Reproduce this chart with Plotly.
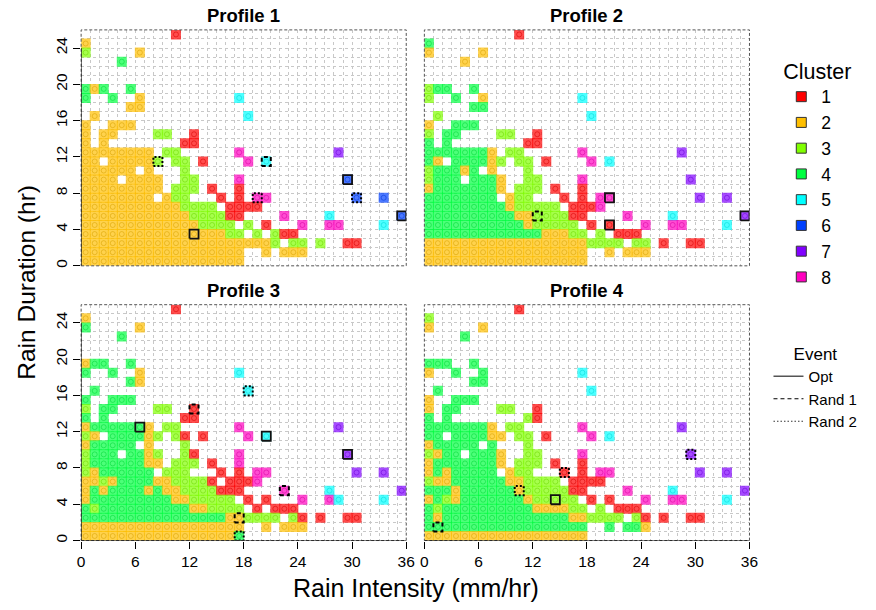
import plotly.graph_objects as go

W, H = 876, 610

# R rainbow(8) palette, one colour per cluster
CLUSTER_COLORS = ["#FF0000", "#FFBF00", "#80FF00", "#00FF40",
                  "#00FFFF", "#0040FF", "#8000FF", "#FF00BF"]
CLUSTER_NAMES = ["1", "2", "3", "4", "5", "6", "7", "8"]
X_TICKS = [0, 6, 12, 18, 24, 30, 36]
Y_TICKS = [0, 4, 8, 12, 16, 20, 24]
PANEL_TITLES = ["Profile 1", "Profile 2", "Profile 3", "Profile 4"]
EVENT_TYPES = ["Opt", "Rand 1", "Rand 2"]

# Occupied cells as runs: (duration hr, intensity from, intensity to, cluster)
PROFILE_1 = [
    (25, 10, 10, 1),
    (24, 0, 0, 2),
    (23, 0, 0, 3), (23, 6, 6, 2),
    (22, 4, 4, 4),
    (19, 0, 0, 4), (19, 1, 1, 2), (19, 2, 2, 4), (19, 5, 5, 4),
    (18, 0, 0, 4), (18, 3, 3, 4), (18, 6, 6, 2), (18, 17, 17, 5),
    (17, 5, 6, 2),
    (16, 1, 1, 2), (16, 18, 18, 5),
    (15, 0, 0, 2), (15, 3, 5, 2),
    (14, 0, 0, 2), (14, 2, 3, 2), (14, 8, 9, 3), (14, 12, 12, 1),
    (13, 0, 0, 2), (13, 2, 2, 2), (13, 11, 12, 1),
    (12, 0, 7, 2), (12, 9, 10, 3), (12, 17, 17, 8), (12, 28, 28, 7),
    (11, 0, 1, 2), (11, 3, 7, 2), (11, 8, 8, 3), (11, 10, 11, 3), (11, 13, 13, 1),
    (11, 18, 18, 8), (11, 20, 20, 5),
    (10, 0, 5, 2), (10, 7, 7, 2), (10, 11, 11, 3),
    (9, 0, 3, 2), (9, 5, 8, 2), (9, 11, 12, 3), (9, 17, 17, 8), (9, 29, 29, 6),
    (8, 0, 8, 2), (8, 10, 12, 3), (8, 14, 14, 1), (8, 17, 17, 1),
    (7, 0, 7, 2), (7, 9, 9, 2), (7, 10, 11, 3), (7, 15, 15, 1), (7, 17, 17, 1),
    (7, 19, 20, 8), (7, 30, 30, 6), (7, 33, 33, 6),
    (6, 0, 10, 2), (6, 11, 14, 3), (6, 16, 19, 1),
    (5, 0, 11, 2), (5, 12, 15, 3), (5, 16, 17, 1), (5, 22, 22, 8), (5, 27, 27, 5),
    (5, 35, 35, 6),
    (4, 0, 12, 2), (4, 13, 16, 3), (4, 18, 18, 3), (4, 20, 20, 1), (4, 24, 24, 8),
    (4, 27, 28, 8), (4, 33, 33, 5),
    (3, 0, 15, 2), (3, 16, 17, 3), (3, 19, 19, 3), (3, 21, 21, 3), (3, 22, 23, 1),
    (2, 0, 20, 2), (2, 21, 21, 3), (2, 23, 24, 3), (2, 26, 26, 3), (2, 29, 30, 1),
    (1, 0, 17, 2), (1, 20, 20, 2), (1, 22, 24, 2),
    (0, 0, 17, 2),
]

PROFILE_2 = [
    (25, 10, 10, 1),
    (24, 0, 0, 4),
    (23, 0, 0, 2), (23, 6, 6, 2),
    (22, 4, 4, 2),
    (19, 0, 0, 3), (19, 1, 2, 4), (19, 5, 5, 4),
    (18, 0, 0, 3), (18, 3, 3, 4), (18, 6, 6, 2), (18, 17, 17, 5),
    (17, 5, 6, 4),
    (16, 1, 1, 3), (16, 18, 18, 5),
    (15, 0, 0, 2), (15, 3, 5, 4),
    (14, 0, 0, 3), (14, 2, 3, 4), (14, 8, 9, 3), (14, 12, 12, 1),
    (13, 0, 0, 4), (13, 2, 2, 4), (13, 11, 12, 1),
    (12, 0, 6, 4), (12, 7, 7, 2), (12, 9, 10, 3), (12, 17, 17, 8), (12, 28, 28, 7),
    (11, 0, 0, 4), (11, 1, 1, 2), (11, 3, 6, 4), (11, 7, 7, 2), (11, 8, 8, 3),
    (11, 10, 11, 3), (11, 13, 13, 1), (11, 18, 18, 8), (11, 20, 20, 5),
    (10, 0, 0, 3), (10, 1, 3, 4), (10, 4, 4, 2), (10, 5, 5, 4), (10, 7, 7, 2),
    (10, 11, 11, 3),
    (9, 0, 0, 3), (9, 1, 3, 4), (9, 5, 7, 4), (9, 8, 8, 2), (9, 11, 12, 3),
    (9, 17, 17, 8), (9, 29, 29, 7),
    (8, 0, 0, 2), (8, 1, 7, 4), (8, 8, 8, 2), (8, 10, 12, 3), (8, 14, 14, 1),
    (8, 17, 17, 1),
    (7, 0, 7, 4), (7, 9, 9, 2), (7, 10, 11, 3), (7, 15, 15, 1), (7, 17, 17, 1),
    (7, 19, 20, 8), (7, 30, 30, 7), (7, 33, 33, 7),
    (6, 0, 8, 4), (6, 9, 9, 2), (6, 10, 14, 3), (6, 16, 18, 1), (6, 19, 19, 8),
    (5, 0, 9, 4), (5, 10, 11, 2), (5, 12, 15, 3), (5, 16, 17, 1), (5, 22, 22, 8),
    (5, 27, 27, 5), (5, 35, 35, 7),
    (4, 0, 10, 4), (4, 11, 11, 2), (4, 12, 16, 3), (4, 18, 18, 1), (4, 20, 20, 1),
    (4, 24, 24, 8), (4, 27, 28, 8), (4, 33, 33, 5),
    (3, 0, 12, 4), (3, 13, 15, 2), (3, 16, 17, 3), (3, 19, 19, 3), (3, 21, 23, 1),
    (2, 0, 17, 2), (2, 18, 21, 3), (2, 23, 24, 3), (2, 26, 26, 1), (2, 29, 30, 1),
    (1, 0, 17, 2), (1, 20, 20, 2), (1, 22, 24, 2),
    (0, 0, 17, 2),
]

PROFILE_3 = [
    (25, 10, 10, 1),
    (24, 0, 0, 2),
    (23, 0, 0, 4), (23, 6, 6, 2),
    (22, 4, 4, 4),
    (19, 0, 0, 2), (19, 1, 2, 4), (19, 5, 5, 4),
    (18, 0, 0, 4), (18, 3, 3, 4), (18, 6, 6, 2), (18, 17, 17, 5),
    (17, 5, 5, 4), (17, 6, 6, 2),
    (16, 1, 1, 4), (16, 18, 18, 5),
    (15, 0, 0, 4), (15, 3, 5, 4),
    (14, 0, 0, 3), (14, 2, 3, 4), (14, 8, 9, 3), (14, 12, 12, 1),
    (13, 0, 0, 4), (13, 2, 2, 4), (13, 11, 12, 1),
    (12, 0, 0, 2), (12, 1, 6, 4), (12, 7, 7, 2), (12, 9, 10, 3), (12, 17, 17, 8),
    (12, 28, 28, 7),
    (11, 0, 0, 3), (11, 1, 1, 2), (11, 3, 6, 4), (11, 7, 7, 2), (11, 8, 8, 3),
    (11, 10, 10, 3), (11, 11, 11, 1), (11, 13, 13, 1), (11, 18, 18, 8), (11, 20, 20, 5),
    (10, 0, 0, 2), (10, 1, 5, 4), (10, 7, 7, 2), (10, 11, 11, 3),
    (9, 0, 0, 3), (9, 1, 3, 4), (9, 5, 6, 4), (9, 7, 7, 2), (9, 8, 8, 3),
    (9, 11, 11, 3), (9, 12, 12, 1), (9, 17, 17, 8), (9, 29, 29, 7),
    (8, 0, 0, 3), (8, 1, 6, 4), (8, 7, 8, 2), (8, 10, 12, 3), (8, 14, 14, 1),
    (8, 17, 17, 8),
    (7, 0, 0, 3), (7, 1, 1, 2), (7, 2, 7, 4), (7, 9, 11, 3), (7, 15, 15, 1),
    (7, 17, 17, 1), (7, 19, 20, 8), (7, 30, 30, 7), (7, 33, 33, 7),
    (6, 0, 1, 2), (6, 2, 2, 3), (6, 3, 3, 2), (6, 4, 7, 4), (6, 8, 9, 2),
    (6, 10, 13, 3), (6, 14, 14, 1), (6, 16, 18, 1), (6, 19, 19, 8),
    (5, 0, 0, 2), (5, 1, 1, 4), (5, 2, 2, 2), (5, 3, 6, 4), (5, 7, 7, 2),
    (5, 8, 8, 4), (5, 9, 10, 2), (5, 11, 14, 3), (5, 15, 17, 1), (5, 22, 22, 8),
    (5, 27, 27, 5), (5, 35, 35, 7),
    (4, 0, 0, 2), (4, 1, 9, 4), (4, 10, 11, 2), (4, 12, 16, 3), (4, 18, 18, 1),
    (4, 20, 20, 1), (4, 24, 24, 8), (4, 27, 27, 8), (4, 28, 28, 5), (4, 33, 33, 5),
    (3, 0, 0, 4), (3, 1, 1, 3), (3, 2, 11, 4), (3, 12, 13, 2), (3, 14, 17, 3),
    (3, 19, 19, 1), (3, 21, 23, 1),
    (2, 0, 15, 4), (2, 16, 17, 2), (2, 18, 21, 3), (2, 23, 23, 3), (2, 24, 24, 1),
    (2, 26, 26, 1), (2, 29, 30, 1),
    (1, 0, 17, 2), (1, 20, 20, 2), (1, 22, 24, 2),
    (0, 0, 16, 2), (0, 17, 17, 4),
]

PROFILE_4 = [
    (25, 10, 10, 1),
    (24, 0, 0, 3),
    (23, 0, 0, 2), (23, 6, 6, 2),
    (22, 4, 4, 4),
    (19, 0, 2, 4), (19, 5, 5, 4),
    (18, 0, 0, 2), (18, 3, 3, 4), (18, 6, 6, 4), (18, 17, 17, 5),
    (17, 5, 6, 4),
    (16, 1, 1, 4), (16, 18, 18, 5),
    (15, 0, 0, 2), (15, 3, 5, 4),
    (14, 0, 0, 2), (14, 2, 3, 4), (14, 8, 9, 3), (14, 12, 12, 1),
    (13, 0, 0, 4), (13, 2, 2, 4), (13, 11, 11, 3), (13, 12, 12, 1),
    (12, 0, 6, 4), (12, 7, 7, 2), (12, 9, 10, 3), (12, 17, 17, 8), (12, 28, 28, 7),
    (11, 0, 1, 4), (11, 3, 6, 4), (11, 7, 8, 2), (11, 10, 11, 3), (11, 13, 13, 1),
    (11, 18, 18, 8), (11, 20, 20, 5),
    (10, 0, 0, 2), (10, 1, 5, 4), (10, 7, 7, 4), (10, 11, 11, 3),
    (9, 0, 0, 3), (9, 1, 1, 2), (9, 2, 3, 4), (9, 5, 7, 4), (9, 8, 8, 2),
    (9, 11, 12, 3), (9, 17, 17, 8), (9, 29, 29, 7),
    (8, 0, 0, 2), (8, 1, 7, 4), (8, 8, 8, 2), (8, 10, 12, 3), (8, 14, 14, 1),
    (8, 17, 17, 1),
    (7, 0, 0, 2), (7, 1, 1, 4), (7, 2, 2, 2), (7, 3, 7, 4), (7, 9, 9, 2),
    (7, 10, 11, 3), (7, 15, 15, 1), (7, 17, 17, 1), (7, 19, 20, 8), (7, 30, 30, 7),
    (7, 33, 33, 7),
    (6, 0, 0, 3), (6, 1, 2, 2), (6, 3, 8, 4), (6, 9, 10, 2), (6, 11, 14, 3),
    (6, 16, 19, 1),
    (5, 0, 2, 4), (5, 3, 3, 2), (5, 4, 9, 4), (5, 10, 10, 2), (5, 11, 15, 3),
    (5, 16, 17, 1), (5, 22, 22, 8), (5, 27, 27, 5), (5, 35, 35, 7),
    (4, 0, 0, 2), (4, 1, 1, 4), (4, 2, 2, 3), (4, 3, 3, 2), (4, 4, 10, 4),
    (4, 11, 11, 2), (4, 12, 16, 3), (4, 18, 18, 1), (4, 20, 20, 1), (4, 24, 24, 8),
    (4, 27, 28, 8), (4, 33, 33, 5),
    (3, 0, 0, 4), (3, 1, 1, 3), (3, 2, 11, 4), (3, 12, 15, 2), (3, 16, 17, 3),
    (3, 19, 19, 3), (3, 21, 23, 1),
    (2, 0, 0, 4), (2, 1, 1, 2), (2, 2, 15, 4), (2, 16, 17, 2), (2, 18, 21, 3),
    (2, 23, 23, 3), (2, 24, 24, 1), (2, 26, 26, 1), (2, 29, 30, 1),
    (1, 0, 17, 4), (1, 20, 20, 4), (1, 22, 23, 4), (1, 24, 24, 2),
    (0, 0, 17, 2),
]

# Highlighted event cells: (intensity, duration, event type)
EVENTS_1 = [(12, 3, "Opt"), (29, 9, "Opt"), (35, 5, "Opt"),
            (20, 11, "Rand 1"),
            (8, 11, "Rand 2"), (19, 7, "Rand 2"), (30, 7, "Rand 2")]
EVENTS_2 = [(20, 7, "Opt"), (20, 4, "Opt"), (35, 5, "Opt"),
            (12, 5, "Rand 1")]
EVENTS_3 = [(6, 12, "Opt"), (20, 11, "Opt"), (29, 9, "Opt"),
            (12, 14, "Rand 1"), (17, 2, "Rand 1"), (22, 5, "Rand 1"),
            (18, 16, "Rand 2"), (17, 0, "Rand 2")]
EVENTS_4 = [(14, 4, "Opt"),
            (1, 1, "Rand 1"),
            (10, 5, "Rand 2"), (15, 7, "Rand 2"), (29, 9, "Rand 2")]

PROFILES = [PROFILE_1, PROFILE_2, PROFILE_3, PROFILE_4]
EVENTS = [EVENTS_1, EVENTS_2, EVENTS_3, EVENTS_4]

EVENT_STYLE = {
    "Opt": dict(dash="solid", color="#111111", width=1.8),
    "Rand 1": dict(dash="4px,3px", color="black", width=2),
    "Rand 2": dict(dash="2px,2px", color="black", width=2),
}
LEGEND_EVENT_STYLE = {
    "Opt": dict(dash="solid", color="#555555", width=1.5),
    "Rand 1": dict(dash="4px,3px", color="black", width=1.2),
    "Rand 2": dict(dash="1.5px,2px", color="#333333", width=1.2),
}

FONT = "Arial, Liberation Sans, sans-serif"
GRID = "#c8c8c8"
FILL_ALPHA = 0.7

# panel boxes in pixels: (left, right, top, bottom)
PANELS_PX = [(78.3, 408.3, 30.0, 266.7), (426.7, 756.7, 30.0, 266.7),
             (78.3, 408.3, 305.7, 542.3), (426.7, 756.7, 305.7, 542.3)]


def rgba(hex_color, a):
    h = hex_color.lstrip("#")
    r, g, b = int(h[0:2], 16), int(h[2:4], 16), int(h[4:6], 16)
    return f"rgba({r},{g},{b},{a})"


def darker(hex_color, f, a):
    h = hex_color.lstrip("#")
    r, g, b = int(h[0:2], 16), int(h[2:4], 16), int(h[4:6], 16)
    return f"rgba({int(r * f)},{int(g * f)},{int(b * f)},{a})"


fig = go.Figure()

for k, (runs, events) in enumerate(zip(PROFILES, EVENTS), start=1):
    xs, ys, fills, rings = [], [], [], []
    for row, c0, c1, cl in runs:
        for c in range(c0, c1 + 1):
            xs.append(c + 0.5)
            ys.append(row + 0.5)
            fills.append(rgba(CLUSTER_COLORS[cl - 1], FILL_ALPHA))
            rings.append(darker(CLUSTER_COLORS[cl - 1], 0.85, 0.55))
    xa = "x" if k == 1 else f"x{k}"
    ya = "y" if k == 1 else f"y{k}"
    fig.add_trace(go.Scatter(
        x=xs, y=ys, mode="markers", xaxis=xa, yaxis=ya, showlegend=False,
        hoverinfo="skip",
        marker=dict(symbol="square", size=10, color=fills, line=dict(width=0)),
    ))
    fig.add_trace(go.Scatter(
        x=xs, y=ys, mode="markers", xaxis=xa, yaxis=ya, showlegend=False,
        hoverinfo="skip",
        marker=dict(symbol="circle-open", size=5, color=rings,
                    line=dict(width=1, color=rings)),
    ))
    for et in EVENT_TYPES:
        ex, ey = [], []
        for c, r, t in events:
            if t != et:
                continue
            ex += [c, c + 1, c + 1, c, c, None]
            ey += [r, r, r + 1, r + 1, r, None]
        if ex:
            fig.add_trace(go.Scatter(
                x=ex, y=ey, mode="lines", xaxis=xa, yaxis=ya, showlegend=False,
                hoverinfo="skip", line=EVENT_STYLE[et],
            ))

# legend entries
for name, col in zip(CLUSTER_NAMES, CLUSTER_COLORS):
    fig.add_trace(go.Scatter(
        x=[None], y=[None], mode="markers", name=name, legend="legend",
        marker=dict(symbol="square", size=10, color=col,
                    line=dict(color="#333333", width=1)),
    ))
for et in EVENT_TYPES:
    fig.add_trace(go.Scatter(
        x=[None], y=[None], mode="lines", name=et, legend="legend2",
        line=LEGEND_EVENT_STYLE[et],
    ))

layout = dict(
    width=W, height=H, margin=dict(l=0, r=0, t=0, b=0),
    paper_bgcolor="white", plot_bgcolor="white",
    font=dict(family=FONT, color="black"),
    showlegend=True,
    legend=dict(
        title=dict(text="Cluster", font=dict(size=21.5)),
        x=789 / W, xanchor="left", y=1 - 51 / H, yanchor="top",
        font=dict(size=17.5), bgcolor="rgba(0,0,0,0)", itemsizing="trace",
        tracegroupgap=0,
    ),
    legend2=dict(
        title=dict(text="Event", font=dict(size=17), side="top center"),
        x=776 / W, xanchor="left", y=1 - 339 / H, yanchor="top",
        font=dict(size=15), bgcolor="rgba(0,0,0,0)", tracegroupgap=0,
    ),
)

shapes, annotations = [], []
for k, (l, r, t, b) in enumerate(PANELS_PX, start=1):
    sfx = "" if k == 1 else str(k)
    left_col = k in (1, 3)
    bottom_row = k in (3, 4)
    layout[f"xaxis{sfx}"] = dict(
        domain=[l / W, r / W], range=[0, 36], anchor=f"y{sfx}",
        tickmode="linear", tick0=0, dtick=6,
        showticklabels=bottom_row, ticks="outside" if bottom_row else "",
        ticklen=7, tickwidth=1, tickcolor="black",
        tickfont=dict(size=15.5, color="black"),
        showgrid=True, gridcolor=GRID, griddash="dot", gridwidth=1,
        minor=dict(tickmode="linear", tick0=0, dtick=1, showgrid=True,
                   gridcolor=GRID, griddash="dot", gridwidth=1),
        zeroline=False, showline=False, fixedrange=True,
    )
    layout[f"yaxis{sfx}"] = dict(
        domain=[1 - b / H, 1 - t / H], range=[0, 26], anchor=f"x{sfx}",
        tickmode="array", tickvals=Y_TICKS,
        showticklabels=left_col, ticks="outside" if left_col else "",
        ticklen=7, tickwidth=1, tickcolor="black", tickangle=-90,
        tickfont=dict(size=15.5, color="black"),
        showgrid=True, gridcolor=GRID, griddash="dot", gridwidth=1,
        minor=dict(tickmode="linear", tick0=0, dtick=1, showgrid=True,
                   gridcolor=GRID, griddash="dot", gridwidth=1),
        zeroline=False, showline=False, fixedrange=True,
    )
    xa = "x" if k == 1 else f"x{k}"
    ya = "y" if k == 1 else f"y{k}"
    # dashed panel frame
    shapes.append(dict(type="rect", xref=f"{xa} domain", yref=f"{ya} domain",
                       x0=0, x1=1, y0=0, y1=1, layer="above",
                       line=dict(color="#555555", width=1, dash="3px,2px")))
    if left_col:
        shapes.append(dict(type="line", xref=xa, yref=ya, x0=0, x1=0,
                           y0=Y_TICKS[0], y1=Y_TICKS[-1], layer="above",
                           line=dict(color="black", width=1)))
    if bottom_row:
        shapes.append(dict(type="line", xref=xa, yref=ya, x0=X_TICKS[0],
                           x1=X_TICKS[-1], y0=0, y1=0, layer="above",
                           line=dict(color="black", width=1)))
    annotations.append(dict(
        text=f"<b>{PANEL_TITLES[k - 1]}</b>", xref="paper", yref="paper",
        x=(l + r) / 2 / W, y=1 - (t - 14) / H, showarrow=False,
        xanchor="center", yanchor="middle", font=dict(size=18.5, color="black"),
    ))

annotations.append(dict(
    text="Rain Intensity (mm/hr)", xref="paper", yref="paper",
    x=418 / W, y=1 - 590 / H, showarrow=False, xanchor="center",
    yanchor="middle", font=dict(size=25, color="black"),
))
annotations.append(dict(
    text="Rain Duration (hr)", xref="paper", yref="paper",
    x=22 / W, y=1 - 283 / H, showarrow=False, xanchor="center",
    yanchor="middle", textangle=-90, font=dict(size=24.5, color="black"),
))

layout["shapes"] = shapes
layout["annotations"] = annotations
fig.update_layout(**layout)

fig.write_html("out.html")
